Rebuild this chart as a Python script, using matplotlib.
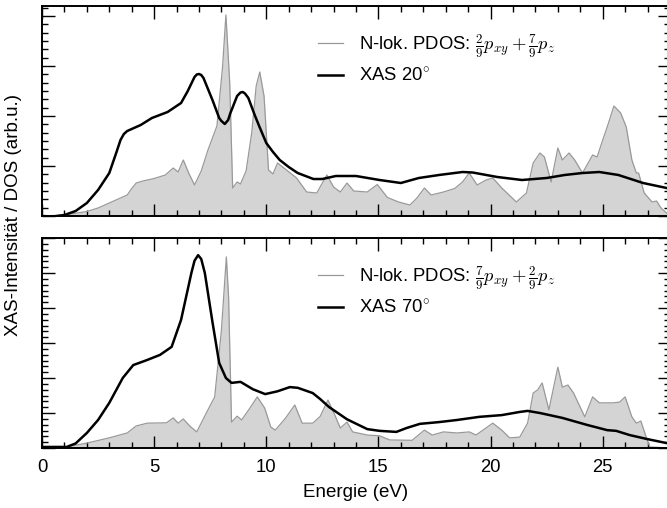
import matplotlib
matplotlib.use("Agg")
import matplotlib.pyplot as plt
from matplotlib.ticker import MultipleLocator, NullFormatter

plt.rcParams['font.family'] = ['Liberation Sans', 'DejaVu Sans']
plt.rcParams['mathtext.fontset'] = 'cm'

# XAS 20 deg, top panel
e_xas20 = [0, 0.5, 1, 1.5, 2, 2.5, 3, 3.3, 3.5, 3.65, 3.8, 4.4, 4.9, 5.6, 6.2, 6.5, 6.8,
           6.9, 7.0, 7.1, 7.2, 7.6, 7.9, 8.0, 8.15, 8.3, 8.4, 8.7, 8.85, 8.95, 9.05, 9.2,
           9.5, 9.7, 10.0, 10.3, 10.6, 11.0, 11.4, 12.1, 12.5, 13.1, 14.0, 15.05, 16.0,
           16.8, 17.7, 18.75, 19.2, 20.3, 21.4, 22.5, 23.3, 24.1, 24.85, 25.7, 26.8,
           27.85, 28]
xas20 = [0, -0.01, 0.02, 0.1, 0.26, 0.52, 0.86, 1.25, 1.52, 1.64, 1.7, 1.82, 1.96, 2.08,
         2.26, 2.5, 2.78, 2.83, 2.84, 2.82, 2.76, 2.32, 1.96, 1.9, 1.84, 1.92, 2.06, 2.4,
         2.47, 2.48, 2.45, 2.36, 2.0, 1.78, 1.46, 1.28, 1.12, 0.98, 0.86, 0.74, 0.74, 0.8,
         0.8, 0.72, 0.66, 0.76, 0.82, 0.88, 0.87, 0.78, 0.72, 0.76, 0.82, 0.86, 0.88, 0.82,
         0.66, 0.56, 0.54]

# PDOS 2/9 pxy + 7/9 pz, top panel
e_dos20 = [0, 1, 2, 2.5, 3, 3.5, 3.8, 4.0, 4.2, 4.5, 5, 5.5, 5.85, 6.07, 6.3, 6.55, 6.8,
           7.1, 7.4, 7.8, 8.05, 8.2, 8.37, 8.5, 8.7, 8.85, 9.1, 9.35, 9.55, 9.71, 9.9,
           10.1, 10.3, 10.5, 10.9, 11.35, 11.8, 12.25, 12.7, 13.0, 13.3, 13.6, 13.9,
           14.5, 14.95, 15.4, 15.9, 16.4, 16.7, 17.05, 17.35, 17.9, 18.4, 18.75, 19.05,
           19.4, 19.8, 20.1, 20.5, 21.15, 21.6, 21.9, 22.2, 22.4, 22.7, 23.0, 23.2, 23.5,
           23.75, 24.1, 24.55, 24.75, 25.0, 25.2, 25.5, 25.8, 26.05, 26.3, 26.5, 26.6,
           26.85, 27.2, 27.4, 27.6, 28]
dos20 = [0, 0.02, 0.09, 0.16, 0.26, 0.36, 0.42, 0.55, 0.66, 0.7, 0.75, 0.82, 0.96, 0.88,
         1.12, 0.85, 0.62, 0.9, 1.32, 1.8, 2.98, 4.02, 2.66, 0.56, 0.68, 0.64, 0.9, 1.66,
         2.6, 2.88, 2.4, 0.92, 0.84, 1.06, 0.92, 0.76, 0.48, 0.46, 0.82, 0.58, 0.48, 0.66,
         0.5, 0.48, 0.63, 0.37, 0.28, 0.22, 0.35, 0.56, 0.42, 0.48, 0.55, 0.68, 0.86, 0.62,
         0.72, 0.76, 0.56, 0.28, 0.46, 1.06, 1.26, 1.18, 0.68, 1.36, 1.12, 1.26, 1.12, 0.86,
         1.22, 1.18, 1.52, 1.78, 2.2, 2.06, 1.78, 1.12, 0.86, 0.86, 0.46, 0.28, 0.3, 0.16, 0.0]

# XAS 70 deg, bottom panel
e_xas70 = [0, 1.1, 1.5, 2, 2.5, 3, 3.6, 4.07, 4.67, 5.26, 5.78, 6.2, 6.66, 6.8, 6.96, 7.1,
           7.26, 7.6, 7.9, 8.2, 8.45, 8.85, 9.4, 9.95, 10.5, 11.05, 11.4, 12.07, 12.4,
           12.8, 13.6, 14.5, 15.05, 15.8, 16.25, 16.85, 17.7, 18.5, 19.5, 20.5, 21.3,
           21.65, 22.2, 23.2, 24.3, 25.2, 25.6, 26.2, 26.95, 27.85, 28]
xas70 = [0.03, 0.03, 0.13, 0.43, 0.8, 1.29, 2.0, 2.37, 2.51, 2.66, 2.89, 3.66, 5.0, 5.35,
         5.51, 5.4, 5.0, 3.6, 2.43, 2.0, 1.86, 1.89, 1.68, 1.54, 1.62, 1.74, 1.72, 1.57,
         1.4, 1.17, 0.82, 0.54, 0.49, 0.46, 0.57, 0.69, 0.74, 0.8, 0.89, 0.94, 1.03, 1.06,
         1.0, 0.86, 0.66, 0.51, 0.49, 0.37, 0.26, 0.14, 0.13]

# PDOS 7/9 pxy + 2/9 pz, bottom panel
e_dos70 = [0, 1, 2, 3, 3.8, 4.2, 4.7, 5.55, 5.85, 6.07, 6.3, 6.6, 6.9, 7.35, 7.7, 8.0,
           8.22, 8.32, 8.45, 8.7, 8.9, 9.27, 9.6, 9.93, 10.2, 10.4, 10.75, 10.9, 11.27,
           11.6, 12.07, 12.4, 12.75, 13.05, 13.3, 13.6, 13.85, 14.5, 15.05, 15.5, 16.5,
           17.05, 17.4, 17.9, 18.5, 19.05, 19.35, 20.1, 20.5, 20.85, 21.3, 21.65, 21.9,
           22.1, 22.3, 22.6, 23.0, 23.2, 23.45, 23.7, 24.2, 24.55, 24.85, 25.45, 25.75,
           26.0, 26.3, 26.5, 26.7, 26.95, 27.1, 28]
dos70 = [0, 0.02, 0.14, 0.29, 0.43, 0.63, 0.71, 0.72, 0.86, 0.71, 0.83, 0.62, 0.46, 1.03,
         1.46, 3.37, 5.46, 4.3, 0.74, 0.91, 0.8, 1.14, 1.46, 1.14, 0.6, 0.51, 0.77, 0.89,
         1.23, 0.71, 0.71, 0.9, 1.37, 0.95, 0.57, 0.74, 0.46, 0.37, 0.35, 0.23, 0.22, 0.51,
         0.37, 0.46, 0.43, 0.46, 0.37, 0.71, 0.51, 0.29, 0.31, 0.71, 1.57, 1.66, 1.86, 1.09,
         2.31, 1.74, 1.8, 1.57, 0.89, 1.46, 1.29, 1.29, 1.31, 1.46, 0.89, 0.71, 0.77, 0.29,
         0.03, 0.0]

panels = [
    (e_dos20, dos20, e_xas20, xas20,
     r'N-lok. PDOS: $\frac{2}{9}p_{xy}+\frac{7}{9}p_z$', r'XAS 20$^{\circ}$', 4.2),
    (e_dos70, dos70, e_xas70, xas70,
     r'N-lok. PDOS: $\frac{7}{9}p_{xy}+\frac{2}{9}p_z$', r'XAS 70$^{\circ}$', 6.0),
]

fig = plt.figure(figsize=(6.67, 5.08), dpi=100)
W, H = 667, 508
axes = []
for i, (ed, d, ex, x, lab_dos, lab_xas, ytop) in enumerate(panels):
    bottom_px = 216 if i == 0 else 448
    ax = fig.add_axes([42 / W, (H - bottom_px) / H, 628 / W, 210 / H])
    ax.fill_between(ed, 0, d, color='#d4d4d4', lw=0)
    ax.plot(ed, d, color='#999999', lw=0.9, label=lab_dos)
    ax.plot(ex, x, color='black', lw=1.8, label=lab_xas)
    ax.set_xlim(0, 28)
    ax.set_ylim(0, ytop)
    ax.xaxis.set_major_locator(MultipleLocator(5))
    ax.xaxis.set_minor_locator(MultipleLocator(1))
    ax.yaxis.set_major_locator(MultipleLocator(1))
    ax.yaxis.set_minor_locator(MultipleLocator(1 / 6))
    ax.yaxis.set_major_formatter(NullFormatter())
    ax.tick_params(which='both', direction='in', top=True, right=True, width=1.0)
    ax.tick_params(which='major', length=9)
    ax.tick_params(which='minor', length=4.5)
    ax.tick_params(axis='x', labelsize=13.3, pad=8)
    for s in ax.spines.values():
        s.set_linewidth(1.4)
    if i == 0:
        ax.xaxis.set_major_formatter(NullFormatter())
    ax.legend(loc='upper left', bbox_to_anchor=(276 / 628, 0.875),
              frameon=False, fontsize=13.3, borderpad=0, borderaxespad=0,
              handlelength=1.35, handletextpad=0.85, labelspacing=0.4)
    axes.append(ax)

axes[1].set_xlabel('Energie (eV)', fontsize=13.5, labelpad=6)
fig.text(14 / W, 1 - 215 / H, 'XAS-Intensität / DOS (arb.u.)', rotation=90,
         ha='center', va='center', fontsize=13.5)

fig.savefig('out.png', dpi=100)
